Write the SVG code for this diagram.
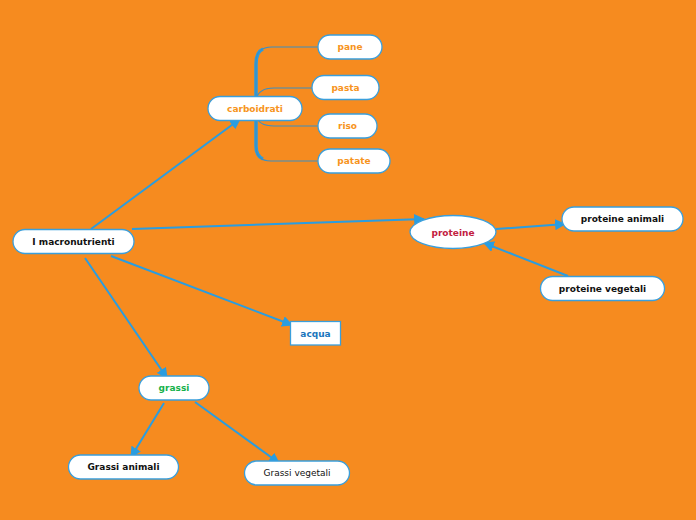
<svg xmlns="http://www.w3.org/2000/svg" width="696" height="520" viewBox="0 0 696 520">
<defs>
<marker id="ar" viewBox="0 0 10 10" refX="9" refY="5" markerWidth="5.5" markerHeight="5.5" orient="auto" markerUnits="strokeWidth">
<path d="M0,0 L10,5 L0,10 z" fill="#2a9de0"/>
</marker>
<style>
.n{fill:#fff;stroke:#3a9fdc;stroke-width:1.3}
.t{font-family:"DejaVu Sans",Verdana,sans-serif;font-size:9px;font-weight:bold;text-anchor:middle;dominant-baseline:central}
.c{stroke:#2a9de0;stroke-width:2;fill:none}
.b{stroke:#3b8fc4;stroke-width:1.2;fill:none}
.o{fill:#f7941d}
</style>
</defs>
<rect width="696" height="520" fill="#f68b1f"/>
<g id="connectors">
<line class="c" x1="91" y1="229" x2="240" y2="119" marker-end="url(#ar)"/>
<line class="c" x1="132" y1="229" x2="424" y2="219" marker-end="url(#ar)"/>
<line class="c" x1="111" y1="256" x2="292" y2="325" marker-end="url(#ar)"/>
<line class="c" x1="85" y1="258" x2="167" y2="378" marker-end="url(#ar)"/>
<line class="c" x1="496" y1="229" x2="565" y2="224" marker-end="url(#ar)"/>
<line class="c" x1="568" y1="276" x2="484" y2="243" marker-end="url(#ar)"/>
<line class="c" x1="164" y1="403" x2="131" y2="457" marker-end="url(#ar)"/>
<line class="c" x1="195" y1="402" x2="279" y2="463" marker-end="url(#ar)"/>
<path d="M263,49 Q256,52 256,64 L256,146 Q256,156 263,159" stroke="#2a9de0" stroke-width="3.5" fill="none"/>
<path class="b" d="M256,108 L256,62 Q256,47 272,47 L318,47"/>
<path class="b" d="M256,108 L256,100 Q258,88 274,88 L312,88"/>
<path class="b" d="M256,108 L256,115 Q258,126 274,126 L318,126"/>
<path class="b" d="M256,108 L256,147 Q256,161 271,161 L318,161"/>
</g>
<g id="macronutrienti"><rect class="n" x="13" y="229.5" width="121" height="24" rx="12"/><text class="t" x="73.5" y="241.5" fill="#111">I macronutrienti</text></g>
<g id="carboidrati"><rect class="n" x="208" y="96.5" width="94" height="24" rx="12"/><text class="t o" x="255" y="108.5">carboidrati</text></g>
<g id="pane"><rect class="n" x="318" y="35" width="64" height="24" rx="12"/><text class="t o" x="350" y="47">pane</text></g>
<g id="pasta"><rect class="n" x="312" y="75.5" width="67" height="24" rx="12"/><text class="t o" x="345.5" y="87.5">pasta</text></g>
<g id="riso"><rect class="n" x="318" y="114" width="59" height="24" rx="12"/><text class="t o" x="347.5" y="126">riso</text></g>
<g id="patate"><rect class="n" x="318" y="149" width="72" height="24" rx="12"/><text class="t o" x="354" y="161">patate</text></g>
<g id="proteine"><ellipse class="n" cx="453" cy="232" rx="43" ry="16.5"/><text class="t" x="453" y="232.5" fill="#c2203f">proteine</text></g>
<g id="proteine-animali"><rect class="n" x="562" y="207" width="121" height="24" rx="12"/><text class="t" x="622.5" y="219" fill="#111">proteine animali</text></g>
<g id="proteine-vegetali"><rect class="n" x="540.5" y="276.5" width="124" height="24" rx="12"/><text class="t" x="602.5" y="288.5" fill="#111">proteine vegetali</text></g>
<g id="acqua"><rect class="n" x="290.5" y="321.5" width="50" height="23.5"/><text class="t" x="315.5" y="333.5" fill="#1b75bc">acqua</text></g>
<g id="grassi"><rect class="n" x="139" y="376" width="70" height="24" rx="12"/><text class="t" x="174" y="388" fill="#16b14b">grassi</text></g>
<g id="grassi-animali"><rect class="n" x="68.5" y="455" width="110" height="24" rx="12"/><text class="t" x="123.5" y="467" fill="#111">Grassi animali</text></g>
<g id="grassi-vegetali"><rect class="n" x="244.5" y="461" width="105" height="24" rx="12"/><text class="t" x="297" y="473" fill="#111" style="font-weight:normal">Grassi vegetali</text></g>
</svg>
